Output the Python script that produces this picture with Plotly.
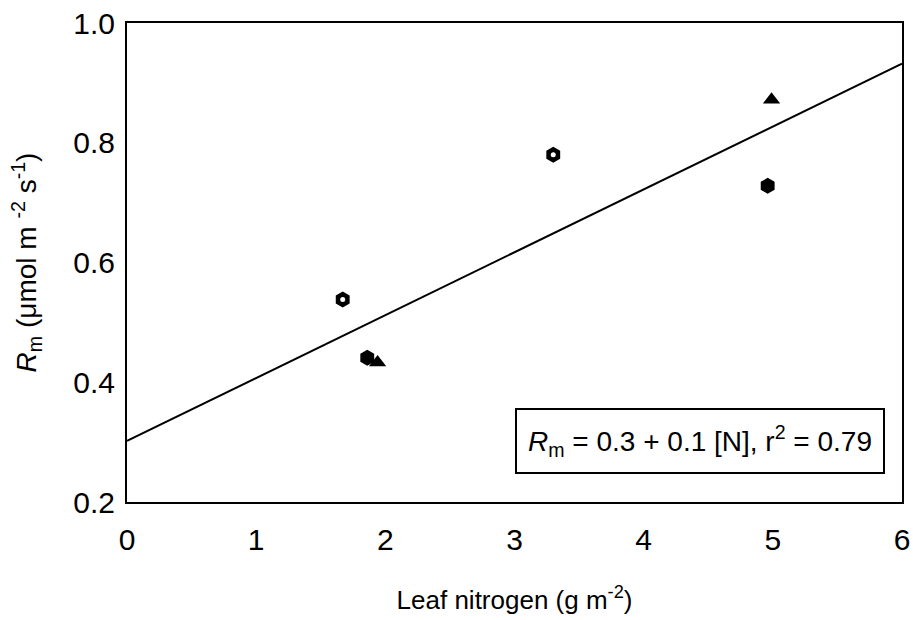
import plotly.graph_objects as go

# Data
hexdot_x = [1.67, 3.30]
hexdot_y = [0.538, 0.780]
hexfill_x = [1.86, 4.96]
hexfill_y = [0.441, 0.728]
tri_x = [1.94, 4.99]
tri_y = [0.433, 0.872]
fit_x = [0, 6]
fit_y = [0.302, 0.932]

x_ticks = [0, 1, 2, 3, 4, 5, 6]
y_ticks = [0.2, 0.4, 0.6, 0.8, 1.0]
y_ticklabels = ["0.2", "0.4", "0.6", "0.8", "1.0"]

FONT = "Liberation Sans, Arial, sans-serif"

fig = go.Figure()
fig.add_trace(go.Scatter(x=fit_x, y=fit_y, mode="lines",
                         line=dict(color="black", width=2), showlegend=False))
fig.add_trace(go.Scatter(x=hexfill_x, y=hexfill_y, mode="markers",
                         marker=dict(symbol="hexagon", size=16, color="black"),
                         showlegend=False))
fig.add_trace(go.Scatter(x=tri_x, y=tri_y, mode="markers",
                         marker=dict(symbol="triangle-up", size=15, color="black"),
                         showlegend=False))
fig.add_trace(go.Scatter(x=hexdot_x, y=hexdot_y, mode="markers",
                         marker=dict(symbol="hexagon", size=16, color="black"),
                         showlegend=False))
fig.add_trace(go.Scatter(x=hexdot_x, y=hexdot_y, mode="markers",
                         marker=dict(symbol="circle", size=5, color="white"),
                         showlegend=False))

fig.add_annotation(
    x=0.978, y=0.058, xref="paper", yref="paper", xanchor="right", yanchor="bottom",
    text="<i>R</i><sub>m</sub> = 0.3 + 0.1 [N], r<sup>2</sup> = 0.79",
    showarrow=False, font=dict(family=FONT, size=28, color="black"),
    bordercolor="black", borderwidth=2, borderpad=11, bgcolor="white")

fig.update_layout(
    width=913, height=620,
    margin=dict(l=127, r=11, t=23, b=118, autoexpand=False),
    paper_bgcolor="white", plot_bgcolor="white",
    font=dict(family=FONT, color="black"),
    xaxis=dict(range=[0, 6], tickvals=x_ticks, showgrid=False, zeroline=False,
               showline=True, linecolor="black", linewidth=2, mirror=True,
               automargin=False, ticklabeloverflow="allow",
               ticks="", tickfont=dict(size=30), ticklabelstandoff=10,
               title=dict(text="Leaf nitrogen (g m<sup>-2</sup>)",
                          font=dict(size=26), standoff=36)),
    yaxis=dict(range=[0.2, 1.0], tickvals=y_ticks, ticktext=y_ticklabels,
               showgrid=False, zeroline=False, automargin=False,
               showline=True, linecolor="black", linewidth=2, mirror=True,
               ticks="", tickfont=dict(size=30), ticklabelstandoff=4,
               title=dict(text="<i>R</i><sub>m</sub> (μmol m <sup>-2</sup> s<sup>-1</sup>)",
                          font=dict(size=28), standoff=28)),
)

fig.write_html("out.html")
